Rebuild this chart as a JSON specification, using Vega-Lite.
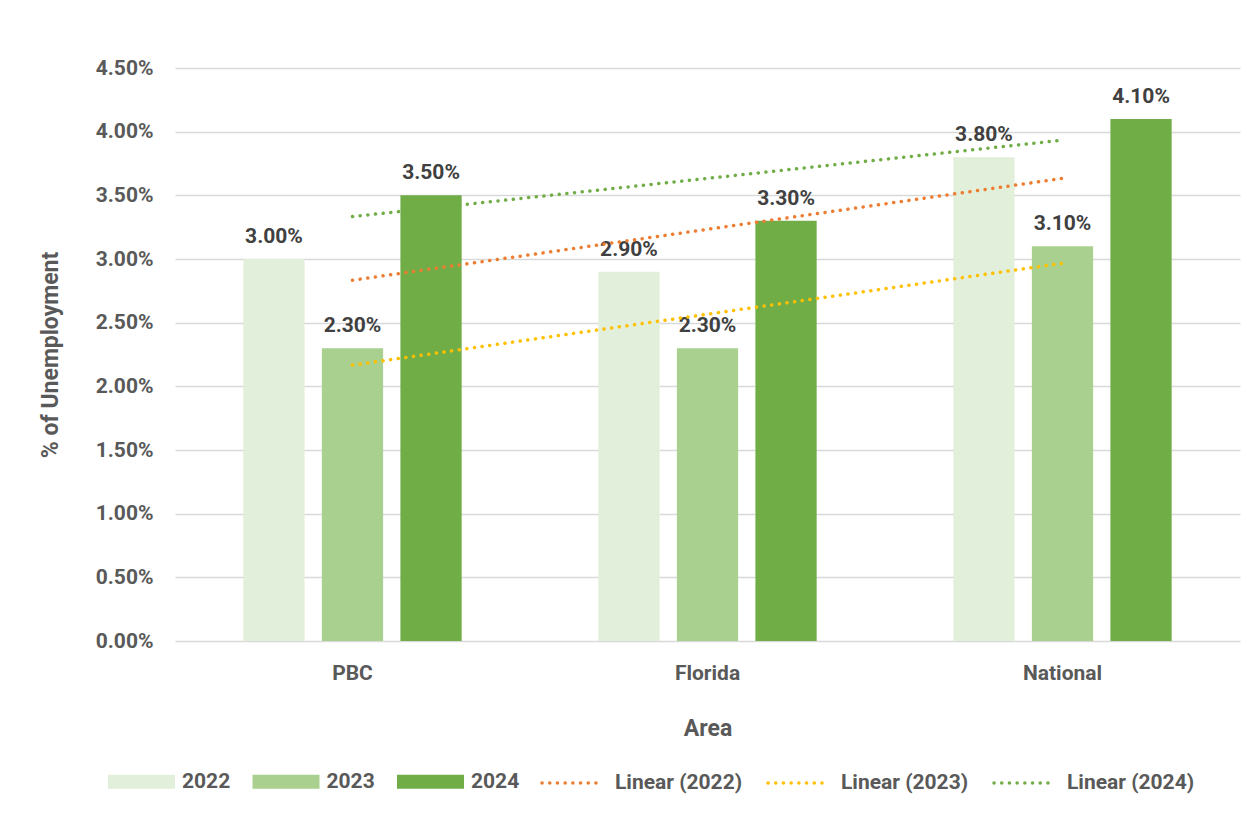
{
  "$schema": "https://vega.github.io/schema/vega-lite/v6.json",
  "autosize": {"type": "none"},
  "width": 1065,
  "height": 573,
  "padding": {"left": 175, "top": 68, "right": 6, "bottom": 175},
  "background": "white",
  "config": {
    "view": {"stroke": null},
    "font": "Roboto",
    "axis": {"labelFont": "Roboto", "titleFont": "Roboto"},
    "legend": {"labelFont": "Roboto"}
  },
  "datasets": {
    "bars": [
      {"Area": "PBC", "Year": "2022", "value": 0.030},
      {"Area": "PBC", "Year": "2023", "value": 0.023},
      {"Area": "PBC", "Year": "2024", "value": 0.035},
      {"Area": "Florida", "Year": "2022", "value": 0.029},
      {"Area": "Florida", "Year": "2023", "value": 0.023},
      {"Area": "Florida", "Year": "2024", "value": 0.033},
      {"Area": "National", "Year": "2022", "value": 0.038},
      {"Area": "National", "Year": "2023", "value": 0.031},
      {"Area": "National", "Year": "2024", "value": 0.041}
    ],
    "trend": [
      {"Area": "PBC", "Series": "Linear (2022)", "value": 0.028333},
      {"Area": "Florida", "Series": "Linear (2022)", "value": 0.032333},
      {"Area": "National", "Series": "Linear (2022)", "value": 0.036333},
      {"Area": "PBC", "Series": "Linear (2023)", "value": 0.021667},
      {"Area": "Florida", "Series": "Linear (2023)", "value": 0.025667},
      {"Area": "National", "Series": "Linear (2023)", "value": 0.029667},
      {"Area": "PBC", "Series": "Linear (2024)", "value": 0.033333},
      {"Area": "Florida", "Series": "Linear (2024)", "value": 0.036333},
      {"Area": "National", "Series": "Linear (2024)", "value": 0.039333}
    ]
  },
  "encoding": {
    "x": {
      "field": "Area",
      "type": "nominal",
      "sort": ["PBC", "Florida", "National"],
      "scale": {"paddingInner": 0.385, "paddingOuter": 0.1925},
      "axis": {
        "title": "Area",
        "labelAngle": 0,
        "labelFontSize": 21,
        "labelFontWeight": "bold",
        "labelColor": "#595959",
        "labelPadding": 21,
        "domain": false,
        "ticks": false,
        "titleFontSize": 23,
        "titleFontWeight": "bold",
        "titleColor": "#595959",
        "titlePadding": 34
      }
    },
    "y": {
      "field": "value",
      "type": "quantitative",
      "scale": {"domain": [0, 0.045], "nice": false},
      "axis": {
        "title": "% of Unemployment",
        "format": ".2%",
        "values": [0, 0.005, 0.01, 0.015, 0.02, 0.025, 0.03, 0.035, 0.04, 0.045],
        "labelFontSize": 21,
        "labelFontWeight": "bold",
        "labelColor": "#595959",
        "labelPadding": 22,
        "domain": false,
        "ticks": false,
        "gridColor": "#D9D9D9",
        "gridWidth": 1.5,
        "titleFontSize": 23,
        "titleFontWeight": "bold",
        "titleColor": "#595959",
        "titlePadding": 33
      }
    }
  },
  "layer": [
    {
      "data": {"name": "bars"},
      "mark": {"type": "bar"},
      "encoding": {
        "xOffset": {"field": "Year", "type": "nominal", "scale": {"paddingInner": 0.22, "paddingOuter": 0}},
        "fill": {
          "field": "Year",
          "type": "nominal",
          "scale": {"domain": ["2022", "2023", "2024"], "range": ["#E2EFDA", "#A9D08E", "#70AD47"]},
          "legend": {
            "title": null,
            "orient": "none",
            "direction": "horizontal",
            "legendX": -67,
            "legendY": 680,
            "symbolType": "M-1,-0.21H1V0.21H-1Z",
            "symbolSize": 4489,
            "symbolStrokeWidth": 0,
            "labelFontSize": 21,
            "labelFontWeight": "bold",
            "labelColor": "#595959",
            "labelOffset": 7,
            "columnPadding": 21.5
          }
        }
      }
    },
    {
      "data": {"name": "bars"},
      "mark": {"type": "text", "baseline": "alphabetic", "dy": -16, "fontSize": 21, "fontWeight": "bold", "color": "#404040"},
      "encoding": {
        "xOffset": {"field": "Year", "type": "nominal"},
        "text": {"field": "value", "type": "quantitative", "format": ".2%"}
      }
    },
    {
      "data": {"name": "trend"},
      "mark": {"type": "line", "strokeWidth": 3.5, "strokeDash": [0.1, 7.6], "strokeCap": "round"},
      "encoding": {
        "stroke": {
          "field": "Series",
          "type": "nominal",
          "scale": {"domain": ["Linear (2022)", "Linear (2023)", "Linear (2024)"], "range": ["#ED7D31", "#FFC000", "#70AD47"]},
          "legend": {
            "title": null,
            "orient": "none",
            "direction": "horizontal",
            "legendX": 365,
            "legendY": 683,
            "symbolType": "stroke",
            "symbolSize": 3600,
            "symbolStrokeWidth": 3.5,
            "symbolDash": [0.1, 7.6],
            "labelFontSize": 21,
            "labelFontWeight": "bold",
            "labelColor": "#595959",
            "labelOffset": 11,
            "columnPadding": 18,
            "encode": {"symbols": {"update": {"strokeCap": {"value": "round"}}}}
          }
        }
      }
    }
  ]
}
